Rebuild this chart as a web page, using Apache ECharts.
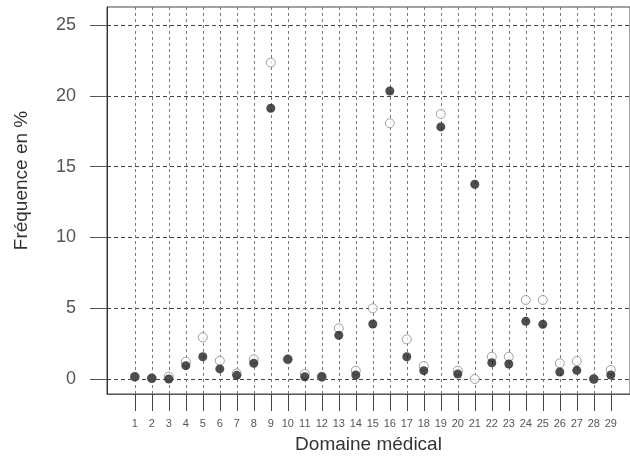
<!DOCTYPE html>
<html>
<head>
<meta charset="utf-8">
<script src="https://cdn.jsdelivr.net/npm/echarts@6/dist/echarts.min.js"></script>
<style>
  html, body { margin: 0; padding: 0; background: #fff; }
  #chart { width: 630px; height: 464px; }
</style>
</head>
<body>
<div id="chart"></div>
<script>
// Domaines médicaux 1..29
const domains = [1, 2, 3, 4, 5, 6, 7, 8, 9, 10, 11, 12, 13, 14, 15, 16, 17, 18, 19, 20, 21, 22, 23, 24, 25, 26, 27, 28, 29];
// points pleins
const filledValues = [0.16, 0.05, 0.0, 0.94, 1.57, 0.71, 0.26, 1.11, 19.12, 1.39, 0.16, 0.16, 3.09, 0.28, 3.88, 20.34, 1.57, 0.59, 17.8, 0.35, 13.75, 1.15, 1.06, 4.07, 3.86, 0.49, 0.61, 0.0, 0.28];
// points vides
const openValues = [0.16, 0.05, 0.16, 1.22, 2.94, 1.29, 0.4, 1.39, 22.34, 1.39, 0.35, 0.16, 3.58, 0.59, 4.99, 18.06, 2.8, 0.92, 18.71, 0.59, 0.0, 1.57, 1.57, 5.58, 5.58, 1.11, 1.27, 0.0, 0.64];
const yTicks = [0, 5, 10, 15, 20, 25];

const chart = echarts.init(document.getElementById('chart'));

const font = 'Liberation Sans, Arial, sans-serif';

chart.setOption({
  animation: false,
  backgroundColor: '#fff',
  grid: {
    left: 107, top: 7, right: 0, bottom: 70,
    show: true, borderColor: '#444', borderWidth: 1
  },
  xAxis: {
    type: 'value',
    min: -0.635,
    max: 30.13,
    name: 'Domaine médical',
    nameLocation: 'middle',
    nameGap: 41,
    nameTextStyle: { fontFamily: font, fontSize: 19, color: '#333' },
    axisLine: { show: true, onZero: false, lineStyle: { color: '#555' } },
    axisTick: { show: true, customValues: domains, length: 17, lineStyle: { color: '#444' } },
    axisLabel: { customValues: domains, margin: 24, fontFamily: font, fontSize: 11, color: '#555' },
    splitLine: { show: true, lineStyle: { type: [3, 3], color: '#777' } }
  },
  yAxis: {
    type: 'value',
    min: -1.06,
    max: 26.27,
    name: 'Fréquence en %',
    nameLocation: 'middle',
    nameGap: 76,
    nameTextStyle: { fontFamily: font, fontSize: 19, color: '#333', padding: [0, 0, 0, 40] },
    axisLine: { show: true, onZero: false, lineStyle: { color: '#333' } },
    axisTick: { show: true, customValues: yTicks, length: 17, lineStyle: { color: '#555' } },
    axisLabel: { customValues: yTicks, margin: 31, fontFamily: font, fontSize: 18, color: '#555' },
    splitLine: { show: true, lineStyle: { type: [4, 3], color: '#444' } }
  },
  series: [
    {
      name: 'open',
      type: 'scatter',
      symbol: 'circle',
      symbolSize: 9,
      itemStyle: { color: '#fff', borderColor: '#888', borderWidth: 1 },
      data: domains.map((d, i) => [d, openValues[i]])
    },
    {
      name: 'filled',
      type: 'scatter',
      symbol: 'circle',
      symbolSize: 9,
      itemStyle: { color: '#222' },
      data: domains.map((d, i) => [d, filledValues[i]])
    }
  ]
});
</script>
</body>
</html>
